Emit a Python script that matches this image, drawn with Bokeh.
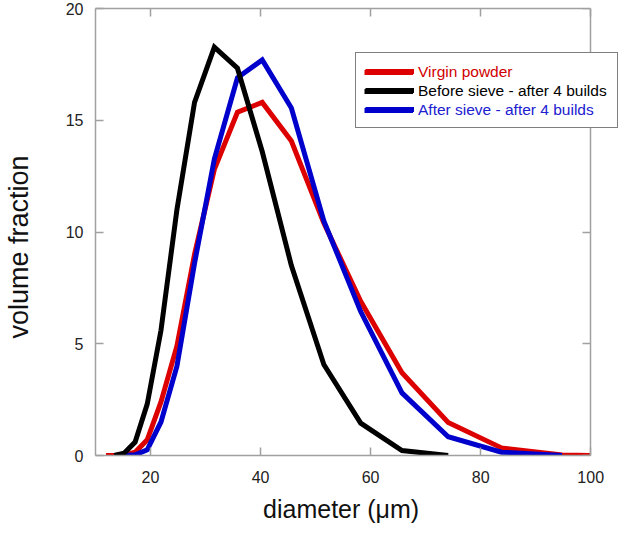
from bokeh.plotting import figure
from bokeh.models import Legend, LegendItem, LinearAxis, FixedTicker, Range1d
from bokeh.embed import file_html
from bokeh.resources import INLINE

# particle diameter bins (um)
diameter = [11.9, 13.4, 15.2, 17.2, 19.4, 21.9, 24.8, 28.0, 31.6, 35.8, 40.3,
            45.6, 51.5, 58.2, 65.7, 74.1, 83.8, 94.8, 100.0]

virgin = [0.0, 0.0, 0.02, 0.15, 0.7, 2.4, 4.9, 9.0, 12.8, 15.36, 15.8,
          14.07, 10.4, 6.9, 3.7, 1.48, 0.34, 0.02, 0.0]

before_d = diameter[1:16]
before = [0.0, 0.1, 0.6, 2.3, 5.6, 11.0, 15.8, 18.27, 17.33, 13.6,
          8.5, 4.07, 1.45, 0.22, 0.0]

after_d = diameter[2:18]
after = [0.0, 0.03, 0.25, 1.5, 4.0, 8.6, 13.26, 16.9, 17.7,
         15.55, 10.5, 6.44, 2.8, 0.84, 0.15, 0.0]

labels = ["Virgin powder", "Before sieve - after 4 builds", "After sieve - after 4 builds"]
line_colors = ["#dd0000", "#000000", "#0000cc"]
text_colors = ["#d00000", "#000000", "#2020d0"]

x_ticks = [20, 40, 60, 80, 100]
y_ticks = [0, 5, 10, 15, 20]
X_MIN, X_MAX = 10, 100

FONT = "Liberation Sans"
GRAY = "#a0a0a0"
NB = "\u00a0"

# the frame extends a little past x=100 so the legend can overhang the
# right border as in the reference; the visible border is drawn at x=100
p = figure(width=621, height=526, output_backend="svg", toolbar_location=None,
           x_range=Range1d(X_MIN, 105.6), y_range=Range1d(0, 20),
           min_border_left=94, min_border_right=0, min_border_top=8,
           min_border_bottom=71)
p.xgrid.visible = False
p.ygrid.visible = False
p.outline_line_color = None
p.background_fill_color = "white"
p.border_fill_color = "white"

r_red = p.line(diameter, virgin, line_color=line_colors[0], line_width=5, line_join="miter")
r_blue = p.line(after_d, after, line_color=line_colors[2], line_width=5, line_join="miter")
r_black = p.line(before_d, before, line_color=line_colors[1], line_width=5, line_join="miter")
renderers = [r_red, r_black, r_blue]

def style_axis(ax, ticks, show_labels):
    ax.ticker = FixedTicker(ticks=ticks)
    ax.axis_line_color = GRAY
    ax.axis_line_width = 1.5
    ax.major_tick_line_color = GRAY
    ax.major_tick_line_width = 1.5
    ax.major_tick_in = 8
    ax.major_tick_out = 0
    ax.minor_tick_line_color = None
    if show_labels:
        ax.major_label_text_font = FONT
        ax.major_label_text_font_size = "16px"
        ax.major_label_text_color = "#222222"
        ax.axis_label_text_font = FONT
        ax.axis_label_text_font_style = "normal"
        ax.axis_label_text_color = "#111111"
    else:
        ax.major_label_overrides = {t: "" for t in ticks}
        ax.major_label_standoff = 0

style_axis(p.xaxis[0], x_ticks, True)
style_axis(p.yaxis[0], y_ticks, True)
p.xaxis.bounds = (X_MIN, X_MAX)
# trailing no-break spaces re-centre the titles on the visible frame
p.xaxis.axis_label = "diameter (μm)" + NB * 5
p.yaxis.axis_label = "volume fraction" + NB * 4
p.xaxis.axis_label_text_font_size = "25px"
p.yaxis.axis_label_text_font_size = "27px"
p.xaxis.major_label_standoff = 15
p.xaxis.axis_label_standoff = 9
p.yaxis.major_label_standoff = 12
p.yaxis.axis_label_standoff = 29

top_ax = LinearAxis(bounds=(X_MIN, X_MAX))
style_axis(top_ax, x_ticks, False)
p.add_layout(top_ax, "above")
right_ax = LinearAxis(fixed_location=X_MAX)
style_axis(right_ax, y_ticks, False)
p.add_layout(right_ax, "right")

# legend box (text hidden), then coloured text rows on top
PAD, GH, SP = 9, 18, 1
LX = 260
LY = 327
common = dict(padding=PAD, spacing=SP, margin=0, glyph_height=GH, glyph_width=49,
              label_height=GH, label_standoff=5, label_text_font=FONT,
              label_text_font_size="15.5px", label_text_line_height=1.0)
box = Legend(items=[LegendItem(label=l, renderers=[r]) for l, r in zip(labels, renderers)],
             location=(LX, LY), border_line_color="black", border_line_width=1.5,
             background_fill_color="white", background_fill_alpha=1.0,
             label_text_alpha=0.0, **common)
p.add_layout(box, "center")
for i, (l, r, c) in enumerate(zip(labels, renderers, text_colors)):
    lg = Legend(items=[LegendItem(label=l, renderers=[r])],
                location=(LX, LY + (2 - i) * (GH + SP)),
                border_line_color="black", border_line_alpha=0.0,
                background_fill_alpha=0.0,
                label_text_color=c, **common)
    p.add_layout(lg, "center")

open("out.html", "w").write(file_html(p, INLINE))
